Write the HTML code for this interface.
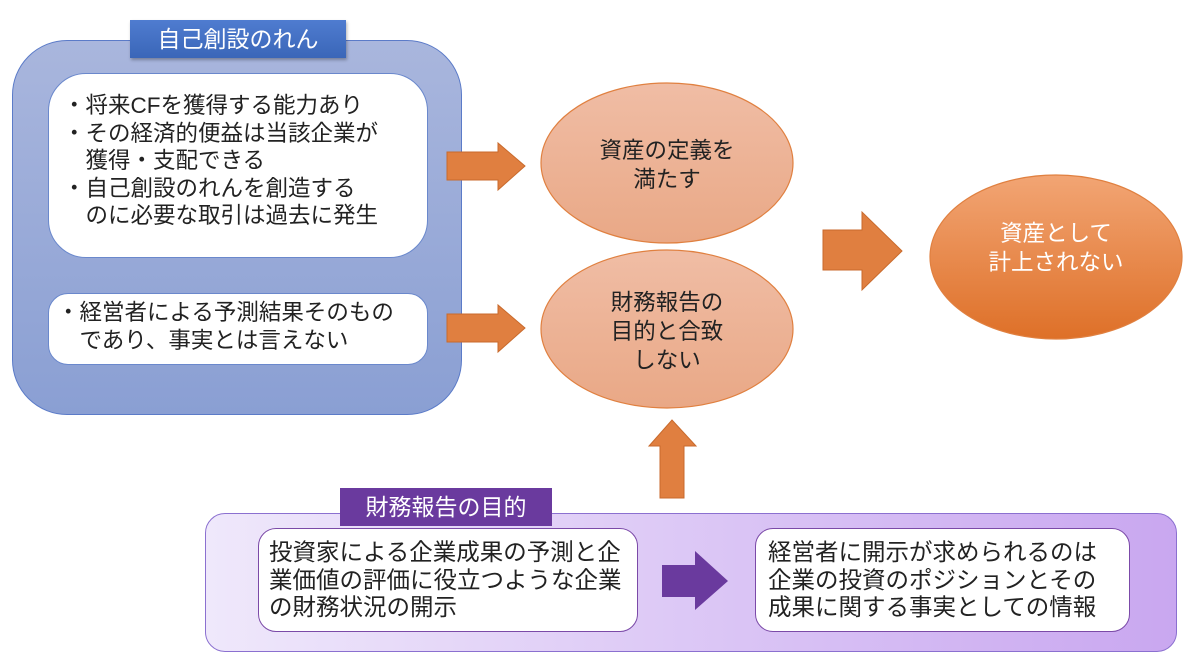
<!DOCTYPE html>
<html><head><meta charset="utf-8"><style>
body{margin:0;width:1200px;height:660px;background:#fff;position:relative;overflow:hidden;font-family:"Liberation Sans","Noto Sans CJK JP",sans-serif;color:#222}
.a{position:absolute;box-sizing:border-box}
.t{font-size:22.5px;line-height:27.5px;white-space:nowrap}
</style></head><body>
<div class="a" style="left:12px;top:40px;width:450px;height:375px;border-radius:55px;background:linear-gradient(#a9b6dd,#8a9fd3);border:1.5px solid #5b7bc8"></div>
<div class="a" style="left:130px;top:20px;width:216px;height:38px;background:linear-gradient(#4f7cd0,#3a66b8);color:#fff;font-size:23px;text-align:center;line-height:38px;box-shadow:1px 2px 3px rgba(0,0,0,.3)">自己創設のれん</div>
<div class="a t" style="left:48px;top:73px;width:380px;height:185px;border-radius:38px;background:#fff;border:1.5px solid #6a88cc;padding:18px 0 0 14px">・将来CFを獲得する能力あり<br>・その経済的便益は当該企業が<br>　獲得・支配できる<br>・自己創設のれんを創造する<br>　のに必要な取引は過去に発生</div>
<div class="a t" style="left:48px;top:293px;width:380px;height:72px;border-radius:20px;background:#fff;border:1.5px solid #6a88cc;padding:5px 0 0 8px">・経営者による予測結果そのもの<br>　であり、事実とは言えない</div>
<div class="a" style="left:205px;top:513px;width:972px;height:139px;border-radius:20px;background:linear-gradient(90deg,#efe8fb,#c9a7f0);border:1.5px solid #8b70d0"></div>
<div class="a" style="left:340px;top:488px;width:212px;height:38px;background:#6a3a9e;color:#fff;font-size:23px;text-align:center;line-height:38px">財務報告の目的</div>
<div class="a t" style="left:258px;top:528px;width:380px;height:104px;border-radius:18px;background:#fff;border:1.5px solid #7b4aa8;padding:10px 0 0 10px;font-size:23.5px">投資家による企業成果の予測と企<br>業価値の評価に役立つような企業<br>の財務状況の開示</div>
<div class="a t" style="left:755px;top:528px;width:375px;height:104px;border-radius:18px;background:#fff;border:1.5px solid #7b4aa8;padding:10px 0 0 12px;font-size:23.5px">経営者に開示が求められるのは<br>企業の投資のポジションとその<br>成果に関する事実としての情報</div>
<svg class="a" style="left:0;top:0" width="1200" height="660">
<defs>
<linearGradient id="g1" x1="0" y1="0" x2="0" y2="1"><stop offset="0" stop-color="#f0bda5"/><stop offset="1" stop-color="#e9a886"/></linearGradient>
<linearGradient id="g2" x1="0" y1="0" x2="0" y2="1"><stop offset="0" stop-color="#f2a574"/><stop offset="1" stop-color="#de7028"/></linearGradient>
</defs>
<g fill="#e07f40" stroke="#c86a2c" stroke-width="1">
<polygon points="447,152 498,152 498,143 525,166 498,190 498,180 447,180"/>
<polygon points="447,314 498,314 498,305 525,328 498,352 498,342 447,342"/>
<polygon points="823,230 862,230 862,212 902,251 862,290 862,270 823,270"/>
<polygon points="660,498 660,446 649,446 672,420 696,446 684,446 684,498"/>
</g>
<polygon points="662,565 695,565 695,551 728,581 695,610 695,597 662,597" fill="#6a3a9e"/>
<ellipse cx="667" cy="163" rx="126" ry="80" fill="url(#g1)" stroke="#e08040" stroke-width="1.2"/>
<ellipse cx="667" cy="329" rx="126" ry="79" fill="url(#g1)" stroke="#e08040" stroke-width="1.2"/>
<ellipse cx="1056" cy="257" rx="126" ry="82" fill="url(#g2)" stroke="#e08040" stroke-width="1.2"/>
<g font-size="22.5" text-anchor="middle" fill="#222" font-family="Liberation Sans, Noto Sans CJK JP, sans-serif">
<text x="667" y="158">資産の定義を</text><text x="667" y="187">満たす</text>
<text x="667" y="310">財務報告の</text><text x="667" y="339">目的と合致</text><text x="667" y="368">しない</text>
<text x="1056" y="241" fill="#fff">資産として</text><text x="1056" y="270" fill="#fff">計上されない</text>
</g>
</svg>
</body></html>
